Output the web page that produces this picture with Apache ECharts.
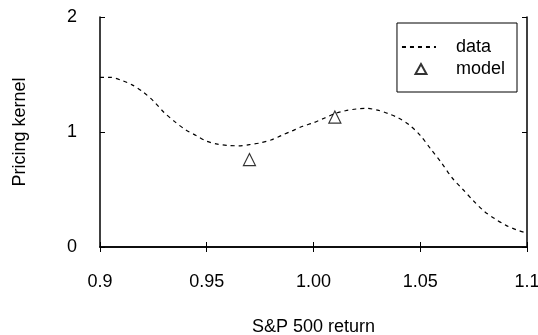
<!DOCTYPE html>
<html><head><meta charset="utf-8">
<script src="https://cdn.jsdelivr.net/npm/echarts@6/dist/echarts.min.js"></script>
<style>html,body{margin:0;padding:0;background:#fff}#c{width:538px;height:335px}</style>
</head><body><div id="c"></div>
<script>
const dataX = [0.900,0.905,0.910,0.915,0.920,0.925,0.930,0.935,0.940,0.945,0.950,0.955,0.960,0.965,0.970,0.975,0.980,0.985,0.990,0.995,1.000,1.005,1.010,1.015,1.020,1.025,1.030,1.035,1.040,1.045,1.050,1.055,1.060,1.065,1.070,1.075,1.080,1.085,1.090,1.095,1.100];
const dataY = [1.475,1.475,1.45,1.41,1.35,1.27,1.17,1.09,1.02,0.97,0.92,0.895,0.883,0.88,0.89,0.905,0.93,0.97,1.01,1.05,1.08,1.12,1.16,1.185,1.20,1.205,1.19,1.16,1.12,1.06,0.97,0.85,0.73,0.60,0.50,0.40,0.31,0.245,0.19,0.15,0.12];
const modelX = [0.97, 1.01];
const modelY = [0.76, 1.13];
const xTickLabels = ['0.9','0.95','1.00','1.05','1.1'];
const yTickLabels = ['0','1','2'];

const font = 'Liberation Sans, Arial, sans-serif';
const chart = echarts.init(document.getElementById('c'), null, {renderer:'canvas'});
const axisLine = {show:true, lineStyle:{color:'#000', width:1.5}};
const axisTick = {show:true, inside:true, length:5, lineStyle:{color:'#000', width:1}};
chart.setOption({
  animation:false,
  backgroundColor:'#fff',
  grid:{left:100, right:11, top:17, bottom:88, show:false, containLabel:false, outerBoundsMode:'none'},
  legend:{
    orient:'vertical', right:21, top:23,
    borderColor:'#000', borderWidth:1, padding:[15,12,14,4],
    itemWidth:34, itemHeight:12, itemGap:4,
    textStyle:{fontFamily:font, fontSize:18, color:'#000', padding:[0,0,0,15]},
    data:[
      {name:'data', itemStyle:{opacity:0, color:'rgba(0,0,0,0)', borderWidth:0}},
      {name:'model', icon:'path://M0,0 M34,12 M19,1 L24.5,11 L13.5,11 Z'}
    ]
  },
  xAxis:[{
    type:'value', min:0.9, max:1.1, interval:0.05, position:'bottom',
    axisLine, axisTick, splitLine:{show:false},
    axisLabel:{margin:26, fontFamily:font, fontSize:18, color:'#000',
      formatter:v=>xTickLabels[Math.round((v-0.9)/0.05)]},
    name:'S&P 500 return', nameLocation:'middle', nameGap:71,
    nameTextStyle:{fontFamily:font, fontSize:18, color:'#000'}
  },{
    type:'value', min:0.9, max:1.1, interval:0.05, position:'top',
    axisLine, axisTick, splitLine:{show:false}, axisLabel:{show:false}
  }],
  yAxis:[{
    type:'value', min:0, max:2, interval:1, position:'left',
    axisLine, axisTick, splitLine:{show:false},
    axisLabel:{margin:23, fontFamily:font, fontSize:18, color:'#000',
      formatter:v=>yTickLabels[Math.round(v)]},
    name:'Pricing kernel', nameLocation:'middle', nameGap:71,
    nameTextStyle:{fontFamily:font, fontSize:18, color:'#000'}
  },{
    type:'value', min:0, max:2, interval:1, position:'right',
    axisLine, axisTick, splitLine:{show:false}, axisLabel:{show:false}
  }],
  series:[{
    name:'data', type:'line', smooth:0.3, symbol:'none',
    lineStyle:{color:'#000', width:1.2, type:[4,4]},
    itemStyle:{color:'#000'},
    data:dataX.map((x,i)=>[x,dataY[i]])
  },{
    name:'model', type:'scatter', symbol:'triangle', symbolSize:12, symbolKeepAspect:true,
    itemStyle:{color:'#fff', borderColor:'#000', borderWidth:1.2},
    data:modelX.map((x,i)=>[x,modelY[i]])
  }]
});
</script></body></html>
